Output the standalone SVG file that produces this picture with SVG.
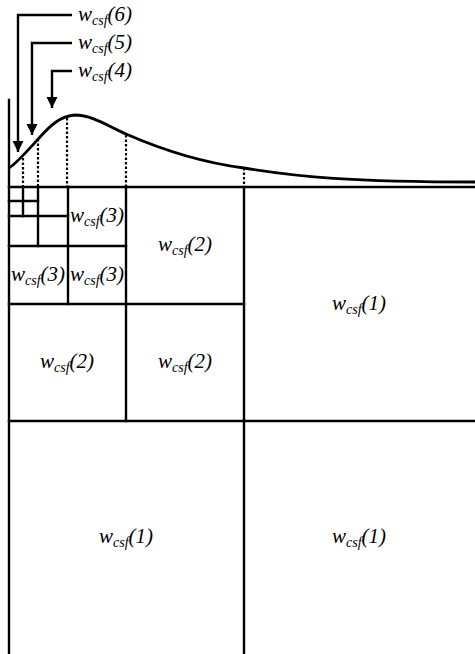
<svg xmlns="http://www.w3.org/2000/svg" width="475" height="654" viewBox="0 0 475 654">
<style>
.ln{stroke:#000;stroke-width:2.4;fill:none;stroke-linecap:square}
.ar{stroke:#000;stroke-width:2.4;fill:none}
.dot{stroke:#000;stroke-width:2.2;fill:none;stroke-dasharray:2.5,2}
.crv{stroke:#000;stroke-width:2.8;fill:none}
.lbl{font-family:"Liberation Serif","Times New Roman",serif;font-style:italic;font-size:21px;fill:#000}
.sub{font-size:14px}
</style>
<defs>
<marker id="ah" viewBox="0 0 10 10" refX="10" refY="5" markerWidth="11" markerHeight="12" markerUnits="userSpaceOnUse" orient="auto">
<path d="M0,0 L10,5 L0,10 Z" fill="#000"/>
</marker>
</defs>
<rect width="475" height="654" fill="#fff"/>
<g id="grid">
<line class="ln" x1="9" y1="100" x2="9" y2="654"/>
<line class="ln" x1="9" y1="187" x2="475" y2="187"/>
<line class="ln" x1="244" y1="187" x2="244" y2="654"/>
<line class="ln" x1="9" y1="421" x2="475" y2="421"/>
<line class="ln" x1="126" y1="187" x2="126" y2="421"/>
<line class="ln" x1="9" y1="304" x2="244" y2="304"/>
<line class="ln" x1="68" y1="187" x2="68" y2="304"/>
<line class="ln" x1="9" y1="246" x2="126" y2="246"/>
<line class="ln" x1="38" y1="187" x2="38" y2="246"/>
<line class="ln" x1="9" y1="216" x2="68" y2="216"/>
<line class="ln" x1="23" y1="187" x2="23" y2="216"/>
<line class="ln" x1="9" y1="201" x2="38" y2="201"/>
</g>
<g id="curve">
<path class="crv" d="M9,168 C17,163 28,150 40,137 C50,126 60,116 75,115 C92,115 108,126 126,134 C165,151 205,163 244,168 C300,177 350,182 475,182"/>
<line class="dot" x1="23" y1="158" x2="23" y2="187"/>
<line class="dot" x1="38" y1="139" x2="38" y2="187"/>
<line class="dot" x1="67" y1="118" x2="67" y2="187"/>
<line class="dot" x1="126" y1="135" x2="126" y2="187"/>
<line class="dot" x1="244" y1="168" x2="244" y2="187"/>
</g>
<g id="connectors">
<path class="ar" d="M72,15 H18 V152" marker-end="url(#ah)"/>
<path class="ar" d="M72,43 H32 V135" marker-end="url(#ah)"/>
<path class="ar" d="M72,71 H52 V108" marker-end="url(#ah)"/>
</g>
<g id="label-w6"><text class="lbl" x="78" y="21">w<tspan class="sub" dy="4">csf</tspan><tspan dy="-4">(6)</tspan></text></g>
<g id="label-w5"><text class="lbl" x="78" y="49">w<tspan class="sub" dy="4">csf</tspan><tspan dy="-4">(5)</tspan></text></g>
<g id="label-w4"><text class="lbl" x="78" y="77">w<tspan class="sub" dy="4">csf</tspan><tspan dy="-4">(4)</tspan></text></g>
<g id="cell-3a"><text class="lbl" x="97" y="222" text-anchor="middle">w<tspan class="sub" dy="4">csf</tspan><tspan dy="-4">(3)</tspan></text></g>
<g id="cell-3b"><text class="lbl" x="38" y="281" text-anchor="middle">w<tspan class="sub" dy="4">csf</tspan><tspan dy="-4">(3)</tspan></text></g>
<g id="cell-3c"><text class="lbl" x="97" y="281" text-anchor="middle">w<tspan class="sub" dy="4">csf</tspan><tspan dy="-4">(3)</tspan></text></g>
<g id="cell-2a"><text class="lbl" x="185" y="251" text-anchor="middle">w<tspan class="sub" dy="4">csf</tspan><tspan dy="-4">(2)</tspan></text></g>
<g id="cell-2b"><text class="lbl" x="67" y="368" text-anchor="middle">w<tspan class="sub" dy="4">csf</tspan><tspan dy="-4">(2)</tspan></text></g>
<g id="cell-2c"><text class="lbl" x="185" y="368" text-anchor="middle">w<tspan class="sub" dy="4">csf</tspan><tspan dy="-4">(2)</tspan></text></g>
<g id="cell-1a"><text class="lbl" x="359" y="310" text-anchor="middle">w<tspan class="sub" dy="4">csf</tspan><tspan dy="-4">(1)</tspan></text></g>
<g id="cell-1b"><text class="lbl" x="126" y="543" text-anchor="middle">w<tspan class="sub" dy="4">csf</tspan><tspan dy="-4">(1)</tspan></text></g>
<g id="cell-1c"><text class="lbl" x="359" y="543" text-anchor="middle">w<tspan class="sub" dy="4">csf</tspan><tspan dy="-4">(1)</tspan></text></g>
</svg>
